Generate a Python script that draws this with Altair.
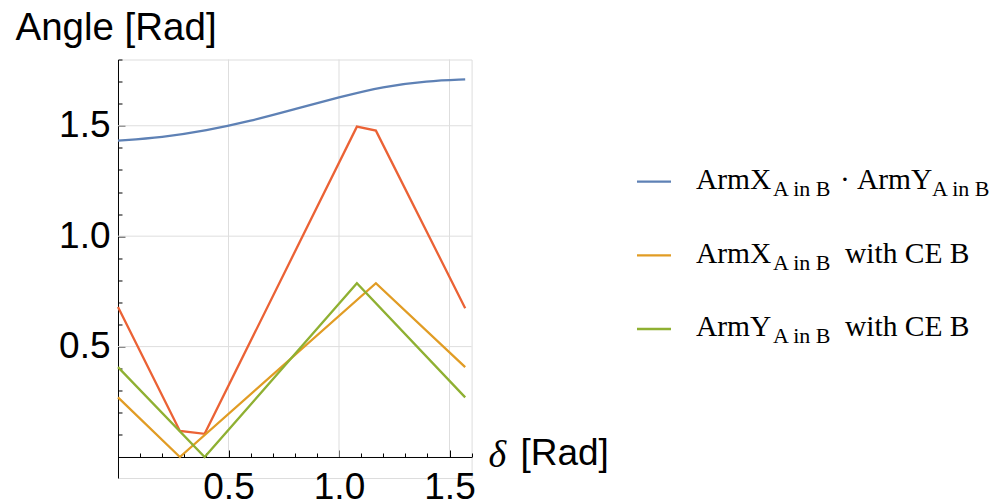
import altair as alt
import pandas as pd

# ---- data ----
delta_blue = [0.0, 0.2, 0.4, 0.6, 0.8, 1.0, 1.2, 1.4, 1.571]
angle_blue = [1.433, 1.447, 1.478, 1.521, 1.575, 1.629, 1.678, 1.703, 1.710]

delta_red = [0.0, 0.28, 0.392, 1.081, 1.167, 1.571]
angle_red = [0.679, 0.118, 0.105, 1.496, 1.478, 0.674]

delta_orange = [0.0, 0.28, 1.167, 1.571]
angle_orange = [0.270, 0.0, 0.787, 0.407]

delta_green = [0.0, 0.392, 1.081, 1.571]
angle_green = [0.407, 0.0, 0.787, 0.270]

series_names = ["ArmX·ArmY", "ArmX with CE B", "ArmY with CE B", "ArmX+ArmY with CE B"]
series_colors = ["#5E81B5", "#E19C24", "#8FB032", "#EB6235"]

grid_values = [0.5, 1.0, 1.5]
x_tick_values = [0.1, 0.2, 0.3, 0.4, 0.5, 0.6, 0.7, 0.8, 0.9, 1.0, 1.1, 1.2, 1.3, 1.4, 1.5, 1.6]
y_tick_values = [0.1, 0.2, 0.3, 0.4, 0.5, 0.6, 0.7, 0.8, 0.9, 1.0, 1.1, 1.2, 1.3, 1.4, 1.5, 1.6, 1.7, 1.8]

legend_main = ["ArmX", "ArmX", "ArmY"]
legend_second = "ArmY"
legend_sub = "A in B"
legend_tail = "with CE B"
legend_dot = "·"

x_domain = [0.0, 1.6]
y_domain = [-0.095, 1.8]

# ---- tables ----
lines_df = pd.concat([
    pd.DataFrame({"delta": delta_red, "angle": angle_red, "series": series_names[3]}),
    pd.DataFrame({"delta": delta_orange, "angle": angle_orange, "series": series_names[1]}),
    pd.DataFrame({"delta": delta_green, "angle": angle_green, "series": series_names[2]}),
], ignore_index=True)
blue_df = pd.DataFrame({"delta": delta_blue, "angle": angle_blue, "series": series_names[0]})

grid_rows = []
for g in grid_values:
    grid_rows.append({"x1": g, "x2": g, "y1": 0.0, "y2": y_domain[1]})
    grid_rows.append({"x1": x_domain[0], "x2": x_domain[1], "y1": g, "y2": g})
grid_df = pd.DataFrame(grid_rows)

W = 353.6
H = 418.5
ZERO_OFF = 21.0  # pixels from bottom of plot to y = 0

xs = alt.Scale(domain=x_domain, nice=False, zero=False)
ys = alt.Scale(domain=y_domain, nice=False, zero=False)
color_scale = alt.Scale(domain=series_names, range=series_colors)

SANS = "Liberation Sans"
SERIF = "Liberation Serif"
major_test = "abs(datum.value*2 - round(datum.value*2)) < 0.001"

x_label_axis = alt.Axis(
    orient="bottom", offset=-ZERO_OFF, values=grid_values, format=".1f",
    ticks=False, tickSize=0, domain=False, grid=False,
    labelFont=SANS, labelFontSize=37, labelColor="black", labelPadding=13,
    labelFlush=False, labelOverlap=False,
    title="[Rad]", titleFont=SANS, titleFontSize=37, titleFontWeight="normal",
    titleColor="black", titleX=402, titleY=8, titleAlign="left",
    titleBaseline="alphabetic", titleAngle=0,
)
y_label_axis = alt.Axis(
    orient="left", values=grid_values, format=".1f",
    ticks=False, tickSize=0, domain=False, grid=False,
    labelFont=SANS, labelFontSize=37, labelColor="black", labelPadding=8,
    labelFlush=False, labelOverlap=False,
    title="Angle [Rad]", titleFont=SANS, titleFontSize=38.5, titleFontWeight="normal",
    titleColor="black", titleX=-103, titleY=-20, titleAlign="left",
    titleBaseline="alphabetic", titleAngle=0,
)
x_tick_axis = alt.Axis(
    orient="top", offset=-(H - ZERO_OFF), values=x_tick_values,
    labels=False, grid=False, domain=True, domainColor="black", domainWidth=1,
    ticks=True, tickColor="black", tickWidth=1,
    tickSize={"condition": {"test": major_test, "value": 7}, "value": 4},
    title="δ", titleFont=SERIF, titleFontStyle="italic", titleFontSize=38,
    titleFontWeight="normal", titleColor="black", titleX=370, titleY=10,
    titleAlign="left", titleBaseline="alphabetic", titleAngle=0,
)
y_tick_axis = alt.Axis(
    orient="right", offset=-W, values=y_tick_values,
    labels=False, grid=False, domain=True, domainColor="black", domainWidth=1,
    ticks=True, tickColor="black", tickWidth=1,
    tickSize={"condition": {"test": major_test, "value": 7}, "value": 4},
    title=None,
)

grid = alt.Chart(grid_df).mark_rule(color="#DEDEDE", strokeWidth=1).encode(
    x=alt.X("x1:Q", scale=xs, axis=x_tick_axis),
    x2="x2:Q",
    y=alt.Y("y1:Q", scale=ys, axis=y_tick_axis),
    y2="y2:Q",
)

lines = alt.Chart(lines_df).mark_line(strokeWidth=2.3).encode(
    x=alt.X("delta:Q", scale=xs, axis=x_label_axis),
    y=alt.Y("angle:Q", scale=ys, axis=y_label_axis),
    color=alt.Color("series:N", scale=color_scale, legend=None),
    detail="series:N",
)

blue = alt.Chart(blue_df).mark_line(strokeWidth=2.3, interpolate="basis").encode(
    x=alt.X("delta:Q", scale=xs, axis=None),
    y=alt.Y("angle:Q", scale=ys, axis=None),
    color=alt.Color("series:N", scale=color_scale, legend=None),
)


def piece(s, x, y, size, font=SERIF, align="left"):
    return alt.Chart(pd.DataFrame({"t": [s]})).mark_text(
        align=align, baseline="alphabetic", font=font, fontSize=size, color="black"
    ).encode(x=alt.value(x), y=alt.value(y), text="t:N")


def swatch(color, y):
    return alt.Chart(pd.DataFrame({"t": [0]})).mark_rule(color=color, strokeWidth=2.3).encode(
        x=alt.value(519), x2=alt.value(553), y=alt.value(y)
    )


row_y = [122.2, 195.8, 269.5]
legend_layers = []
for i, c in enumerate([series_colors[0], series_colors[1], series_colors[2]]):
    legend_layers.append(swatch(c, row_y[i]))
    base = row_y[i] + 7.5
    legend_layers.append(piece(legend_main[i], 578, base, 29.5))
    legend_layers.append(piece(legend_sub, 655, base + 7, 22))
    if i == 0:
        legend_layers.append(piece(legend_dot, 727, base, 29.5, align="center"))
        legend_layers.append(piece(legend_second, 739, base, 29.5))
        legend_layers.append(piece(legend_sub, 814, base + 7, 22))
    else:
        legend_layers.append(piece(legend_tail, 727, base, 29.5))

chart = alt.layer(grid, lines, blue, *legend_layers).resolve_axis(
    x="independent", y="independent"
).properties(
    width=W, height=H,
    autosize=alt.AutoSizeParams(type="none"),
    padding={"left": 110, "top": 51.5, "right": 520, "bottom": 24},
).configure_view(stroke=None).configure(background="white")

chart.save("out.html", embed_options={"renderer": "svg", "actions": False})
